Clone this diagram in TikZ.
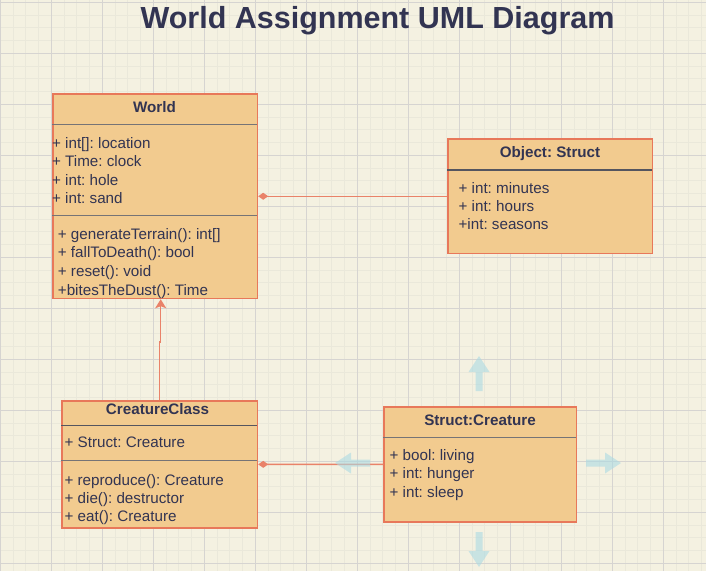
\documentclass[tikz,border=0pt]{standalone}
\usepackage{fontspec}
\setmainfont{Liberation Sans}
\usetikzlibrary{arrows.meta}

\definecolor{paper}{RGB}{244,241,225}
\definecolor{minorline}{RGB}{234,232,218}
\definecolor{majorline}{RGB}{214,212,209}
\definecolor{boxfill}{RGB}{242,203,143}
\definecolor{boxline}{RGB}{232,120,90}
\definecolor{linkline}{RGB}{233,130,105}
\definecolor{ink}{RGB}{50,52,82}
\definecolor{sepgray}{RGB}{118,116,118}
\definecolor{sepdark}{RGB}{85,85,95}
\definecolor{hint}{RGB}{172,218,227}

\begin{document}
\frenchspacing
\begin{tikzpicture}[x=1pt, y=-1pt,
    classbox/.style={draw=boxline, fill=boxfill, line width=1.5pt, anchor=north west, inner sep=0pt},
    header/.style={anchor=base, inner sep=0pt, text=ink, font=\fontsize{15.2}{18}\selectfont\bfseries},
    member/.style={anchor=base west, inner sep=0pt, text=ink, font=\fontsize{15.2}{18}\selectfont},
    seplight/.style={draw=sepgray, line width=0.9pt},
    sepheavy/.style={draw=sepdark, line width=1.6pt},
    link/.style={draw=linkline, line width=1.4pt}]
    \useasboundingbox (0,0) rectangle (706,571);
    % Paper and grid
    \fill[paper] (0,0) rectangle (706,571);
    \foreach \i in {0,...,55} {
        \draw[minorline, line width=0.8pt] ({0.3+12.75*\i},0) -- ++(0,571);
    }
    \foreach \j in {0,...,44} {
        \draw[minorline, line width=0.8pt] (0,{2.3+12.75*\j}) -- ++(706,0);
    }
    \foreach \i in {0,...,13} {
        \draw[majorline, line width=0.9pt] ({0.3+51*\i},0) -- ++(0,571);
    }
    \foreach \j in {0,...,11} {
        \draw[majorline, line width=0.9pt] (0,{2.3+51*\j}) -- ++(706,0);
    }
    \node[anchor=base, inner sep=0pt, text=ink, font=\fontsize{30.5}{36}\selectfont\bfseries] (title) at (377.5,28) {World Assignment UML Diagram};
    % Class boxes
    \node[classbox, minimum width=204.4pt, minimum height=204.4pt] (world) at (52.3,93.3) {};
    \node[classbox, minimum width=204.4pt, minimum height=114.4pt] (objstruct) at (447.3,138.3) {};
    \node[classbox, minimum width=195.7pt, minimum height=127.3pt] (cclass) at (61,400) {};
    \node[classbox, minimum width=192.4pt, minimum height=115pt] (screature) at (383.3,406) {};
    \draw[seplight] (52.3,124) -- (256.7,124);
    \draw[seplight] (52.3,215.7) -- (256.7,215.7);
    \draw[sepheavy] (447.3,169.7) -- (651.7,169.7);
    \draw[sepheavy] (61,425.3) -- (256.7,425.3);
    \draw[seplight] (61,460.3) -- (256.7,460.3);
    \draw[seplight] (383.3,437.3) -- (575.7,437.3);
    % Texts
    \node[header] (world-name) at (154.5,112.7) {World};
    \foreach \txt [count=\i] in {{+ int[]: location}, {+ Time: clock}, {+ int: hole}, {+ int: sand}} {
        \node[member] (world-attr\i) at (51.9,{148.3+18.5*(\i-1)}) {\txt};
    }
    \foreach \txt [count=\i] in {{+ generateTerrain(): int[]}, {+ fallToDeath(): bool}, {+ reset(): void}, {+bitesTheDust(): Time}} {
        \node[member] (world-op\i) at (57.7,{239.3+18.6*(\i-1)}) {\txt};
    }
    \node[header] (objstruct-name) at (550,157.3) {Object: Struct};
    \foreach \txt [count=\i] in {{+ int: minutes}, {+ int: hours}, {+int: seasons}} {
        \node[member] (objstruct-attr\i) at (458.4,{193.3+17.9*(\i-1)}) {\txt};
    }
    \node[header] (cclass-name) at (157.5,414) {CreatureClass};
    \node[member] (cclass-attr1) at (64.4,447.3) {+ Struct: Creature};
    \foreach \txt [count=\i] in {{+ reproduce(): Creature}, {+ die(): destructor}, {+ eat(): Creature}} {
        \node[member] (cclass-op\i) at (64.4,{485+18*(\i-1)}) {\txt};
    }
    \node[header] (screature-name) at (480,425) {Struct:Creature};
    \foreach \txt [count=\i] in {{+ bool: living}, {+ int: hunger}, {+ int: sleep}} {
        \node[member] (screature-attr\i) at (389.4,{460+18.7*(\i-1)}) {\txt};
    }
    % Links
    \draw[link, {Diamond[length=10pt, width=7pt]}-] (world) -- (objstruct);
    \draw[link, {Diamond[length=10pt, width=7pt]}-] (cclass) -- (screature);
    \coordinate (jog) at (160.7,342);
    \draw[link, -{Stealth[length=9pt, width=11pt, inset=2pt]}] (cclass.north) |- (jog) -- (jog |- world.south);
    % Move handles round Struct:Creature
    \foreach \px/\py/\ang in {479/391/90, 479/532/-90, 370/463/180, 586/463/0} {
        \fill[hint, opacity=0.6, shift={(\px,\py)}, rotate=\ang] (0,-3.5) -- (19,-3.5) -- (19,-10.5) -- (35,0) -- (19,10.5) -- (19,3.5) -- (0,3.5) -- cycle;
    }
\end{tikzpicture}
\end{document}
